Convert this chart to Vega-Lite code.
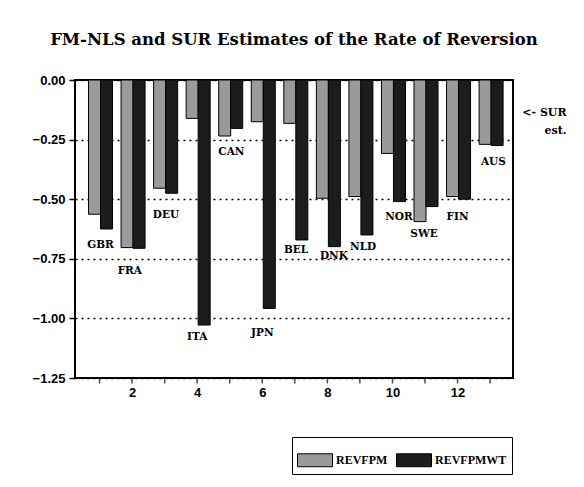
{
  "$schema": "https://vega.github.io/schema/vega-lite/v6.json",
  "width": 438,
  "height": 298,
  "autosize": {"type": "none"},
  "padding": {"left": 75, "top": 80, "right": 71, "bottom": 109},
  "background": "white",
  "title": {
    "text": "FM-NLS and SUR Estimates of the Rate of Reversion",
    "font": "DejaVu Serif",
    "fontSize": 16.5,
    "fontWeight": "bold",
    "color": "black",
    "anchor": "middle",
    "offset": 26
  },
  "datasets": {
    "bars": [
      {"i": 1, "country": "GBR", "REVFPM": -0.563, "REVFPMWT": -0.625},
      {"i": 2, "country": "FRA", "REVFPM": -0.703, "REVFPMWT": -0.706},
      {"i": 3, "country": "DEU", "REVFPM": -0.454, "REVFPMWT": -0.475},
      {"i": 4, "country": "ITA", "REVFPM": -0.161, "REVFPMWT": -1.028},
      {"i": 5, "country": "CAN", "REVFPM": -0.235, "REVFPMWT": -0.203},
      {"i": 6, "country": "JPN", "REVFPM": -0.175, "REVFPMWT": -0.958},
      {"i": 7, "country": "BEL", "REVFPM": -0.182, "REVFPMWT": -0.671},
      {"i": 8, "country": "DNK", "REVFPM": -0.496, "REVFPMWT": -0.699},
      {"i": 9, "country": "NLD", "REVFPM": -0.489, "REVFPMWT": -0.65},
      {"i": 10, "country": "NOR", "REVFPM": -0.308, "REVFPMWT": -0.51},
      {"i": 11, "country": "SWE", "REVFPM": -0.594, "REVFPMWT": -0.531},
      {"i": 12, "country": "FIN", "REVFPM": -0.489, "REVFPMWT": -0.5},
      {"i": 13, "country": "AUS", "REVFPM": -0.27, "REVFPMWT": -0.275}
    ],
    "labels": [
      {"country": "GBR", "lx": 1.03, "ly": -0.692},
      {"country": "FRA", "lx": 1.93, "ly": -0.8},
      {"country": "DEU", "lx": 3.04, "ly": -0.567},
      {"country": "ITA", "lx": 4.0, "ly": -1.078},
      {"country": "CAN", "lx": 5.05, "ly": -0.302},
      {"country": "JPN", "lx": 6.0, "ly": -1.061},
      {"country": "BEL", "lx": 7.04, "ly": -0.713},
      {"country": "DNK", "lx": 8.2, "ly": -0.738},
      {"country": "NLD", "lx": 9.1, "ly": -0.7},
      {"country": "NOR", "lx": 10.2, "ly": -0.575},
      {"country": "SWE", "lx": 10.97, "ly": -0.646},
      {"country": "FIN", "lx": 12.0, "ly": -0.575},
      {"country": "AUS", "lx": 13.1, "ly": -0.344}
    ]
  },
  "layer": [
    {
      "data": {"name": "bars"},
      "mark": {"type": "bar", "width": 12, "xOffset": -5, "stroke": "black", "strokeWidth": 1},
      "encoding": {
        "x": {
          "field": "i", "type": "quantitative",
          "scale": {"domain": [0.4, 13.55], "nice": false, "zero": false},
          "axis": {
            "values": [2, 4, 6, 8, 10, 12],
            "title": null,
            "grid": false,
            "domain": false,
            "ticks": false,
            "labelFont": "Liberation Sans",
            "labelFontSize": 13,
            "labelFontWeight": "bold",
            "labelColor": "black",
            "labelPadding": 8
          }
        },
        "y": {
          "field": "REVFPM", "type": "quantitative",
          "scale": {"domain": [-1.25, 0], "nice": false},
          "axis": {
            "values": [0, -0.25, -0.5, -0.75, -1, -1.25],
            "format": ".2f",
            "title": null,
            "grid": true,
            "gridColor": "black",
            "gridDash": [2, 4],
            "gridWidth": 1.5,
            "domain": false,
            "tickSize": 6,
            "tickColor": "black",
            "tickWidth": 1.5,
            "labelFont": "Liberation Sans",
            "labelFontSize": 13,
            "labelFontWeight": "bold",
            "labelColor": "black",
            "labelPadding": 4
          }
        },
        "color": {
          "datum": "REVFPM",
          "scale": {"domain": ["REVFPM", "REVFPMWT"], "range": ["#9a9a9a", "#1c1c1c"]},
          "legend": {
            "title": null,
            "orient": "none",
            "legendX": 217,
            "legendY": 357,
            "direction": "horizontal",
            "strokeColor": "black",
            "padding": 5,
            "symbolType": "M-1,-0.37H1V0.37H-1Z",
            "symbolSize": 1225,
            "symbolStrokeColor": "black",
            "symbolStrokeWidth": 1,
            "labelFont": "Liberation Serif",
            "labelFontSize": 12,
            "labelFontWeight": "bold",
            "labelColor": "black",
            "columnPadding": 6,
            "labelOffset": 3
          }
        }
      }
    },
    {
      "data": {"name": "bars"},
      "mark": {"type": "bar", "width": 12, "xOffset": 7, "stroke": "black", "strokeWidth": 1},
      "encoding": {
        "x": {"field": "i", "type": "quantitative"},
        "y": {"field": "REVFPMWT", "type": "quantitative"},
        "color": {"datum": "REVFPMWT"}
      }
    },
    {
      "data": {"name": "bars"},
      "mark": {"type": "tick", "orient": "vertical", "size": 5, "thickness": 1.5, "yOffset": 3, "color": "black", "clip": false},
      "encoding": {
        "x": {"field": "i", "type": "quantitative"},
        "y": {"datum": -1.25, "type": "quantitative"}
      }
    },
    {
      "data": {"name": "labels"},
      "mark": {"type": "text", "font": "DejaVu Serif", "fontSize": 10.5, "fontWeight": "bold", "color": "black", "baseline": "middle", "align": "center"},
      "encoding": {
        "x": {"field": "lx", "type": "quantitative"},
        "y": {"field": "ly", "type": "quantitative"},
        "text": {"field": "country"}
      }
    },
    {
      "data": {"values": [{}]},
      "mark": {"type": "text", "font": "DejaVu Serif", "fontSize": 11, "fontWeight": "bold", "color": "black", "baseline": "middle", "align": "right", "lineHeight": 18},
      "encoding": {
        "x": {"datum": 15.35, "type": "quantitative"},
        "y": {"datum": -0.138, "type": "quantitative"},
        "text": {"value": ["<- SUR", "est."]}
      }
    }
  ],
  "config": {
    "view": {"stroke": "black", "strokeWidth": 2}
  }
}
